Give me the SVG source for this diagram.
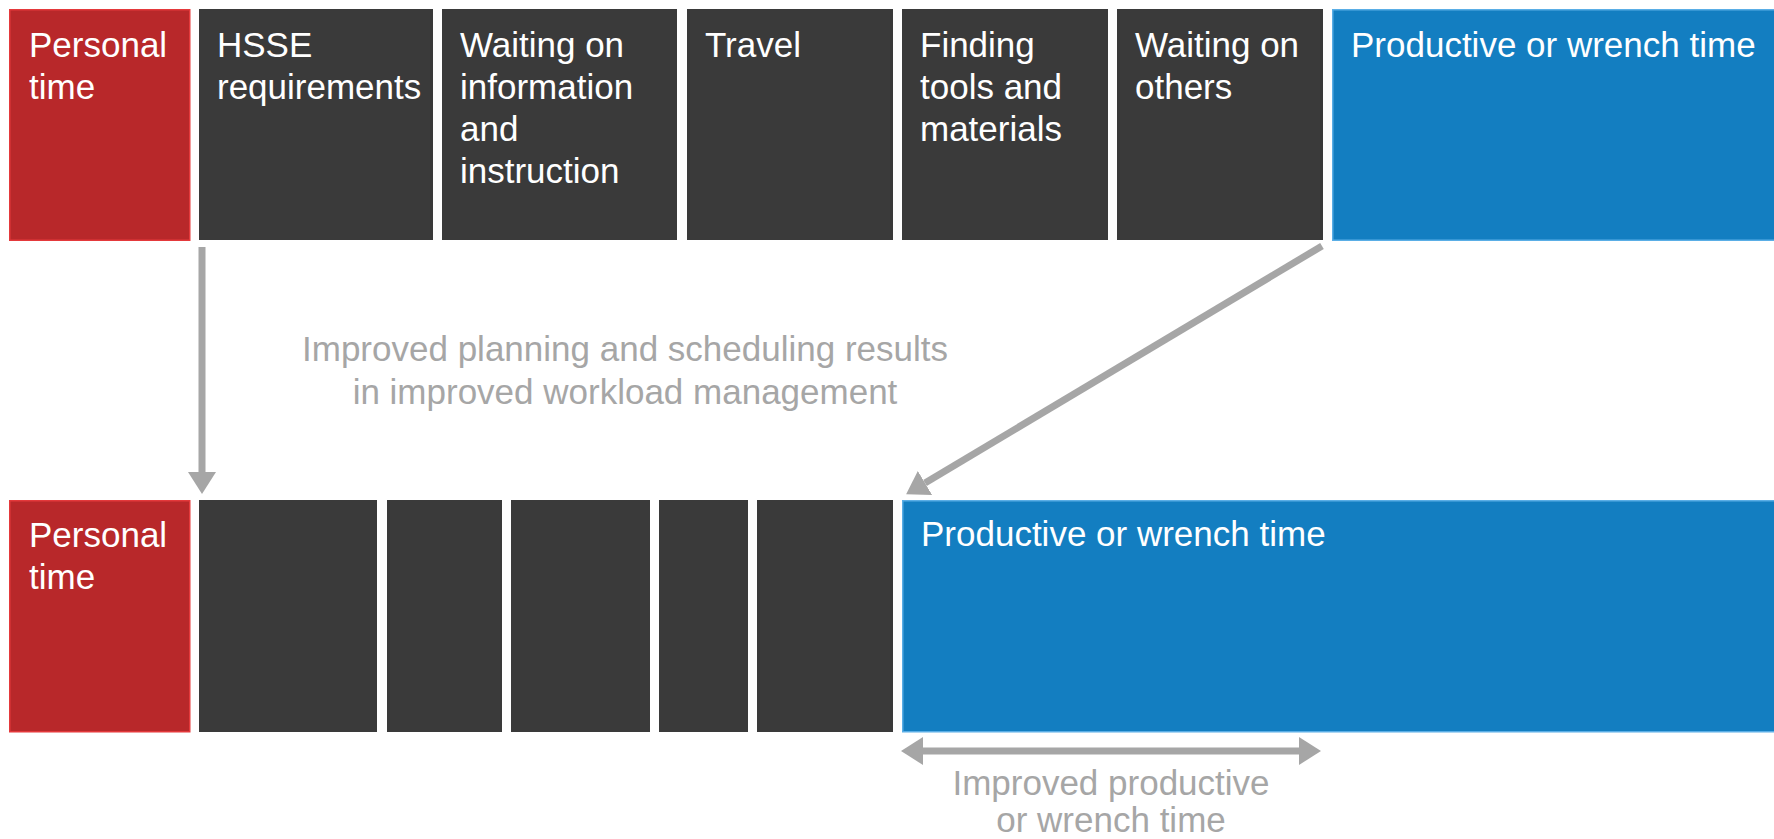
<svg xmlns="http://www.w3.org/2000/svg" width="1774" height="839" viewBox="0 0 1774 839">
<defs>
<style>
.red{fill:#B8282A;stroke:#E4393B;stroke-width:1.5}
.dark{fill:#3A3A3A}
.blue{fill:#137EC1;stroke:#5AAEE6;stroke-width:1.5}
.t{font-family:"Liberation Sans",Arial,sans-serif;font-size:35px;fill:#FFFFFF}
.g{font-family:"Liberation Sans",Arial,sans-serif;font-size:35px;fill:#A6A6A6;text-anchor:middle}
.conn{stroke:#A6A6A6;stroke-width:7;fill:none}
</style>
<marker id="ah" markerUnits="userSpaceOnUse" markerWidth="22" markerHeight="28" viewBox="0 0 22 28" refX="0" refY="14" orient="auto-start-reverse">
<path d="M0,0 L22,14 L0,28 z" fill="#A6A6A6"/>
</marker>
</defs>
<rect width="1774" height="839" fill="#FFFFFF"/>

<g id="top-personal"><rect class="red" x="9.75" y="9.75" width="180" height="230.5"/><text class="t" x="29" y="57">Personal</text><text class="t" x="29" y="99">time</text></g>
<g id="top-hsse"><rect class="dark" x="199" y="9" width="234" height="231"/><text class="t" x="217" y="57">HSSE</text><text class="t" x="217" y="99">requirements</text></g>
<g id="top-waiting-info"><rect class="dark" x="442" y="9" width="235" height="231"/><text class="t" x="460" y="57">Waiting on</text><text class="t" x="460" y="99">information</text><text class="t" x="460" y="141">and</text><text class="t" x="460" y="183">instruction</text></g>
<g id="top-travel"><rect class="dark" x="687" y="9" width="206" height="231"/><text class="t" x="705" y="57">Travel</text></g>
<g id="top-finding"><rect class="dark" x="902" y="9" width="206" height="231"/><text class="t" x="920" y="57">Finding</text><text class="t" x="920" y="99">tools and</text><text class="t" x="920" y="141">materials</text></g>
<g id="top-waiting-others"><rect class="dark" x="1117" y="9" width="206" height="231"/><text class="t" x="1135" y="57">Waiting on</text><text class="t" x="1135" y="99">others</text></g>
<g id="top-productive"><rect class="blue" x="1332.75" y="9.75" width="442" height="230.5"/><text class="t" x="1351" y="57">Productive or wrench time</text></g>

<g id="bottom-personal"><rect class="red" x="9.75" y="500.75" width="180" height="231"/><text class="t" x="29" y="547">Personal</text><text class="t" x="29" y="589">time</text></g>
<g id="bottom-block-1"><rect class="dark" x="199" y="500" width="178" height="232"/></g>
<g id="bottom-block-2"><rect class="dark" x="387" y="500" width="115" height="232"/></g>
<g id="bottom-block-3"><rect class="dark" x="511" y="500" width="139" height="232"/></g>
<g id="bottom-block-4"><rect class="dark" x="659" y="500" width="89" height="232"/></g>
<g id="bottom-block-5"><rect class="dark" x="757" y="500" width="136" height="232"/></g>
<g id="bottom-productive"><rect class="blue" x="902.75" y="500.75" width="872" height="231"/><text class="t" x="921" y="546">Productive or wrench time</text></g>

<g id="connectors">
<line class="conn" x1="202" y1="247" x2="202" y2="472" marker-end="url(#ah)"/>
<line class="conn" x1="1322" y1="246" x2="925" y2="483" marker-end="url(#ah)"/>
<line class="conn" x1="923" y1="751" x2="1299" y2="751" marker-start="url(#ah)" marker-end="url(#ah)"/>
</g>

<g id="labels">
<text class="g" x="625" y="361">Improved planning and scheduling results</text>
<text class="g" x="625" y="404">in improved workload management</text>
<text class="g" x="1111" y="795">Improved productive</text>
<text class="g" x="1111" y="832">or wrench time</text>
</g>
</svg>
